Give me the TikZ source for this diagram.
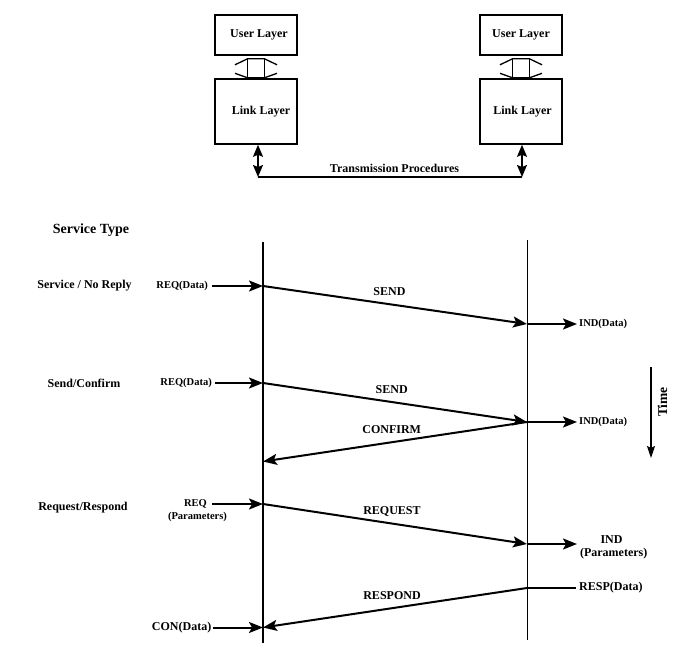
\documentclass[tikz,border=0pt]{standalone}
\usepackage{fontspec}
\setmainfont{Liberation Serif}
\usetikzlibrary{arrows.meta}
\begin{document}
\begin{tikzpicture}[x=1pt,y=-1pt,
  lbl/.style={font=\bfseries\fontsize{12}{13}\selectfont, inner sep=0pt},
  smalllbl/.style={font=\bfseries\fontsize{10.5}{11}\selectfont, inner sep=0pt},
  headlbl/.style={font=\bfseries\fontsize{14}{15}\selectfont, inner sep=0pt},
  layerbox/.style={draw, line width=1.6pt, inner sep=0pt, minimum width=82pt,
    font=\bfseries\fontsize{12}{13}\selectfont},
  msg/.style={line width=2pt, -{Stealth[length=14pt,width=11pt,inset=3pt]}},
  plainmsg/.style={line width=2pt},
  dblarrow/.style={line width=1.6pt, {Stealth[length=12pt,width=10pt,inset=2pt]}-{Stealth[length=12pt,width=10pt,inset=2pt]}},
  iface/.style={line width=1.3pt},
]
\useasboundingbox (0,0) rectangle (681,660);

% ---------- top part ----------
\node[layerbox, minimum height=40pt] (UL1) at (256,35) {\hspace{6pt}User Layer};
\node[layerbox, minimum height=65pt] (LL1) at (256,111.5) {\hspace{10pt}Link Layer};
\node[layerbox, minimum height=40pt] (UL2) at (521,35) {User Layer};
\node[layerbox, minimum height=65pt] (LL2) at (521,111.5) {\hspace{3pt}Link Layer};

\foreach \b in {UL1,UL2}{
  \begin{scope}[shift={(\b.south)}]
    \draw[iface] (-21,9) -- (-8.5,3) -- (8.5,3) -- (21,9);
    \draw[iface] (-21,17.5) -- (-8.5,22) -- (8.5,22) -- (21,17.5);
    \draw[iface] (-8.5,3) -- (-8.5,22);
    \draw[iface] (8.5,3) -- (8.5,22);
  \end{scope}
}

\coordinate (T1) at (258,177);
\coordinate (T2) at (522,177);
\draw[dblarrow] (LL1.south -| T1) -- (T1);
\draw[dblarrow] (LL2.south -| T2) -- (T2);
\draw[line width=1.8pt] (T1) -- (T2);
\node[lbl] (TP) at (394.5,168.5) {Transmission Procedures};

% ---------- bottom part ----------
\node[headlbl] (ST) at (91,230) {Service Type};

\coordinate (A0) at (263,242);
\coordinate (A1) at (263,643);
\coordinate (B0) at (527,240);
\coordinate (B1) at (527,640);
\draw[line width=2.4pt] (A0) -- (A1);
\draw[line width=0.9pt] (B0) -- (B1);

\coordinate (a1) at (263,286);
\coordinate (b1) at (527,324);
\coordinate (a2) at (263,383);
\coordinate (b2) at (527,422);
\coordinate (a3) at (263,461.5);
\coordinate (a4) at (263,504);
\coordinate (b4) at (527,544);
\coordinate (b5) at (527,588);
\coordinate (a5) at (263,627.5);

% Service / No Reply
\node[lbl] (S1) at (84.5,286) {Service / No Reply};
\node[smalllbl, anchor=east] (req1) at (208,286) {REQ(Data)};
\draw[msg] ([xshift=4pt]req1.east) -- (a1);
\draw[msg] (a1) -- (b1);
\node[lbl] (send1) at (389.5,291.7) {SEND};
\node[smalllbl, anchor=west] (ind1) at (579,324) {IND(Data)};
\draw[msg] (b1) -- ([xshift=-2pt]ind1.west);

% Send/Confirm
\node[lbl] (S2) at (84,383) {Send/Confirm};
\node[smalllbl, anchor=east] (req2) at (212,383) {REQ(Data)};
\draw[msg] ([xshift=3pt]req2.east) -- (a2);
\draw[msg] (a2) -- (b2);
\node[lbl] (send2) at (391.7,390) {SEND};
\node[smalllbl, anchor=west] (ind2) at (579,422) {IND(Data)};
\draw[msg] (b2) -- ([xshift=-2pt]ind2.west);
\draw[msg] (b2) -- (a3);
\node[lbl] (conf) at (391.7,429.3) {CONFIRM};

% Time
\coordinate (t0) at (651,367);
\coordinate (t1) at (651,458);
\draw[line width=1.2pt, -{Stealth[length=12pt,width=8pt,inset=2pt]}] (t0) -- (t1);
\node[headlbl, rotate=90, font=\bfseries\fontsize{13.5}{14}\selectfont] (time) at (662.5,402) {Time};

% Request/Respond
\node[lbl] (S3) at (83,508) {Request/Respond};
\node[smalllbl] (req3) at (195.5,504) {REQ};
\node[smalllbl] (req3p) at (197.5,517) {(Parameters)};
\draw[msg] ([xshift=5pt]req3.east) -- (a4);
\draw[msg] (a4) -- (b4);
\node[lbl] (reqm) at (392,511.7) {REQUEST};
\node[lbl] (ind3) at (611.5,540) {IND};
\node[lbl] (ind3p) at (613.7,554) {(Parameters)};
\coordinate (e3) at (577,544);
\draw[msg] (b4) -- (e3);

\node[lbl, anchor=west] (resp) at (579,588) {RESP(Data)};
\draw[plainmsg] (b5) -- ([xshift=-3pt]resp.west);
\draw[msg] (b5) -- (a5);
\node[lbl] (respm) at (392,595.7) {RESPOND};
\node[lbl, anchor=east] (con) at (211.5,627.5) {CON(Data)};
\draw[msg] ([xshift=1pt]con.east) -- (a5);
\end{tikzpicture}
\end{document}
